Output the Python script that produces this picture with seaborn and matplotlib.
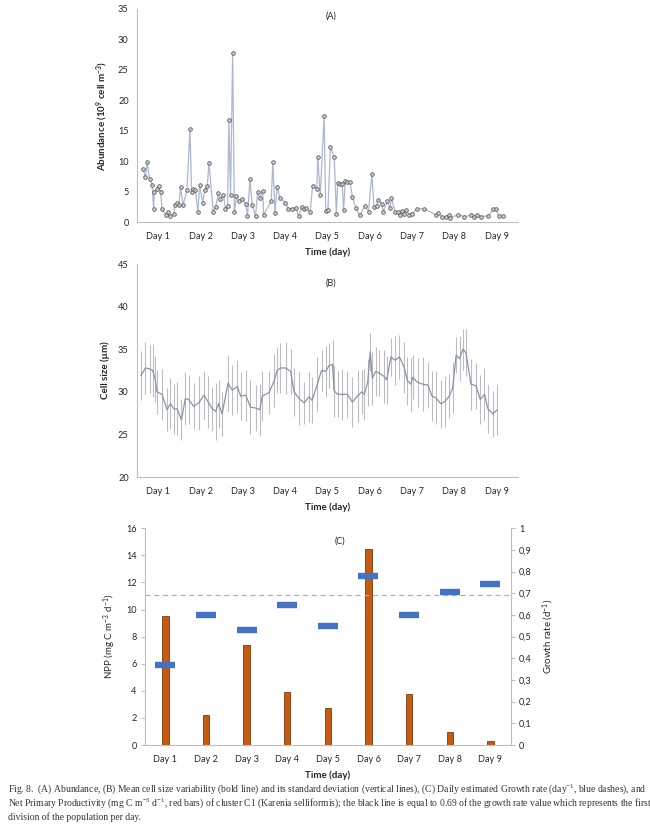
import numpy as np
import pandas as pd
import seaborn as sns
import matplotlib.pyplot as plt
from matplotlib.ticker import FixedLocator, MultipleLocator, FuncFormatter

# (A) abundance, x in days since start
abund_time = [0.14, 0.20, 0.24, 0.30, 0.36, 0.39, 0.41, 0.47, 0.51, 0.56,
              0.59, 0.69, 0.73, 0.78, 0.88, 0.89, 0.94, 0.99, 1.03, 1.09,
              1.18, 1.25, 1.29, 1.33, 1.38, 1.44, 1.48, 1.55, 1.60, 1.66,
              1.70, 1.80, 1.86, 1.92, 1.97, 2.04, 2.09, 2.14, 2.17, 2.21,
              2.26, 2.30, 2.35, 2.42, 2.49, 2.57, 2.61, 2.67, 2.72, 2.80,
              2.85, 2.90, 2.97, 2.99, 3.17, 3.21, 3.26, 3.31, 3.38, 3.50,
              3.57, 3.66, 3.75, 3.82, 3.89, 3.94, 4.00, 4.09, 4.15, 4.25,
              4.27, 4.33, 4.42, 4.46, 4.51, 4.57, 4.66, 4.71, 4.74, 4.79,
              4.85, 4.88, 4.92, 4.97, 5.03, 5.09, 5.17, 5.26, 5.39, 5.47,
              5.55, 5.60, 5.66, 5.69, 5.78, 5.82, 5.91, 5.98, 6.01, 6.10,
              6.16, 6.22, 6.25, 6.31, 6.36, 6.43, 6.50, 6.61, 6.78, 7.06,
              7.12, 7.21, 7.29, 7.36, 7.40, 7.59, 7.73, 7.90, 7.96, 8.03,
              8.12, 8.30, 8.42, 8.48, 8.55, 8.65]
abund_val = [8.7, 7.4, 9.8, 7.0, 6.1, 2.1, 4.9, 5.5, 6.0, 4.9,
             2.1, 1.1, 1.6, 1.0, 1.3, 2.8, 3.1, 2.8, 5.7, 2.8,
             5.2, 15.2, 4.9, 5.4, 5.2, 1.7, 6.1, 3.2, 5.2, 6.0,
             9.7, 1.7, 2.5, 4.7, 3.8, 4.5, 2.2, 2.7, 16.7, 4.5,
             27.8, 1.6, 4.2, 3.4, 3.8, 3.0, 1.0, 7.1, 2.8, 1.0,
             4.9, 3.9, 5.1, 1.2, 3.4, 9.8, 1.5, 5.8, 3.9, 3.2,
             2.2, 2.2, 2.3, 1.0, 2.5, 2.2, 2.3, 1.6, 6.0, 5.5,
             10.7, 4.4, 17.4, 1.8, 1.9, 12.3, 10.6, 1.4, 6.4, 6.3,
             6.2, 1.9, 6.8, 6.5, 6.6, 4.1, 2.3, 1.1, 2.7, 1.7,
             7.9, 2.4, 2.6, 3.7, 3.0, 1.7, 3.4, 2.3, 3.9, 1.7,
             1.7, 1.1, 1.8, 1.3, 1.9, 1.2, 1.4, 2.1, 2.2, 1.2,
             1.5, 0.9, 0.8, 1.2, 0.7, 1.2, 0.9, 1.1, 0.8, 1.1,
             0.9, 1.0, 2.1, 2.1, 1.0, 1.0]

# (B) mean cell size and standard deviation
size_time = [0.09, 0.20, 0.30, 0.37, 0.43, 0.47, 0.59, 0.71, 0.79, 0.87,
             0.95, 1.05, 1.14, 1.22, 1.34, 1.46, 1.58, 1.68, 1.78, 1.86,
             1.93, 2.01, 2.15, 2.25, 2.37, 2.45, 2.57, 2.68, 2.80, 2.90,
             2.96, 3.12, 3.24, 3.31, 3.39, 3.51, 3.63, 3.71, 3.83, 3.95,
             4.06, 4.14, 4.26, 4.36, 4.46, 4.54, 4.62, 4.66, 4.74, 4.85,
             4.97, 5.09, 5.21, 5.31, 5.37, 5.45, 5.51, 5.56, 5.64, 5.72,
             5.84, 5.90, 6.00, 6.10, 6.20, 6.31, 6.39, 6.47, 6.51, 6.63,
             6.75, 6.87, 6.97, 7.06, 7.18, 7.28, 7.38, 7.46, 7.54, 7.62,
             7.70, 7.77, 7.89, 8.01, 8.11, 8.21, 8.29, 8.41, 8.51]
size_mean = [31.9, 32.8, 32.7, 32.5, 31.5, 30.0, 29.7, 27.9, 28.6, 28.0,
             28.0, 26.7, 29.2, 29.1, 28.3, 28.7, 29.6, 28.8, 28.0, 27.7,
             28.6, 27.4, 31.0, 30.2, 30.6, 29.5, 29.6, 28.2, 28.1, 27.9,
             29.5, 29.9, 31.3, 32.5, 32.8, 32.8, 32.4, 30.0, 29.2, 28.7,
             29.4, 29.0, 30.9, 32.5, 32.4, 33.1, 33.2, 30.1, 29.7, 29.7,
             29.7, 28.8, 29.5, 30.0, 29.7, 31.1, 34.7, 31.6, 32.4, 32.2,
             31.8, 31.4, 34.1, 33.7, 34.1, 32.9, 31.3, 30.9, 31.7, 31.1,
             30.9, 30.8, 29.5, 29.3, 28.6, 28.9, 29.5, 30.5, 34.3, 33.9,
             35.0, 34.6, 30.9, 30.7, 29.1, 29.7, 28.0, 27.4, 27.9]
size_std = [2.9, 3.0, 2.8, 3.1, 2.7, 2.6, 3.0, 2.5, 3.0, 2.9,
            3.1, 2.4, 3.1, 2.9, 2.7, 3.2, 2.8, 3.0, 2.6, 3.3,
            2.8, 2.6, 3.2, 2.9, 3.1, 2.8, 3.0, 3.2, 2.7, 3.0,
            2.9, 2.5, 3.1, 2.6, 2.9, 3.0, 2.6, 2.8, 3.1, 2.5,
            2.9, 2.7, 3.2, 2.4, 3.0, 2.6, 2.9, 3.1, 2.7, 3.0,
            2.8, 2.9, 3.1, 2.6, 3.0, 2.8, 2.2, 3.1, 2.9, 2.7,
            3.1, 2.8, 2.2, 2.9, 2.6, 3.0, 2.8, 3.1, 2.6, 2.9,
            3.2, 2.7, 2.9, 3.1, 2.8, 3.0, 2.6, 3.0, 2.1, 2.6,
            2.4, 2.8, 3.0, 2.7, 2.9, 3.1, 2.8, 2.7, 3.0]

# (C) daily NPP and growth rate
days = ['Day 1', 'Day 2', 'Day 3', 'Day 4', 'Day 5', 'Day 6', 'Day 7', 'Day 8', 'Day 9']
npp = [9.55, 2.25, 7.35, 3.9, 2.75, 14.5, 3.75, 0.95, 0.3]
growth = [0.37, 0.60, 0.53, 0.645, 0.55, 0.78, 0.60, 0.705, 0.745]
division_rate = 0.69

sns.set_style('white')
plt.rcParams['font.family'] = ['Lato', 'DejaVu Sans']
plt.rcParams['text.color'] = '#262626'
plt.rcParams['axes.labelcolor'] = '#262626'
plt.rcParams['xtick.color'] = '#262626'
plt.rcParams['ytick.color'] = '#262626'
plt.rcParams['mathtext.default'] = 'regular'

spine_col = '#bfbfbf'
tick_fs = 6.6
lab_fs = 7


def style_axis(ax):
    sns.despine(ax=ax, top=True, right=True)
    for s in ['left', 'bottom']:
        ax.spines[s].set_color(spine_col)
        ax.spines[s].set_linewidth(0.8)
    ax.tick_params(axis='y', length=3, width=0.8, color=spine_col, labelsize=tick_fs, pad=3)


def day_axis(ax):
    ax.set_xlim(0, 9)
    ax.xaxis.set_major_locator(FixedLocator(np.arange(9) + 0.5))
    ax.set_xticklabels(days)
    ax.xaxis.set_minor_locator(FixedLocator(np.arange(10)))
    ax.tick_params(axis='x', which='major', length=0, labelsize=tick_fs, pad=7)
    ax.tick_params(axis='x', which='minor', length=3, width=0.8, color=spine_col)
    ax.set_xlabel('Time (day)', fontsize=lab_fs, fontweight='bold', labelpad=5)


fig = plt.figure(figsize=(6.5, 8.3), dpi=100)

# (A)
axA = fig.add_axes([0.2108, 0.7325, 0.586, 0.2567])
dfA = pd.DataFrame({'time': abund_time, 'abundance': abund_val})
sns.lineplot(data=dfA, x='time', y='abundance', ax=axA, color='#aab8d2', lw=0.9,
             marker='o', markersize=2.6, markerfacecolor='#d0d0d0',
             markeredgecolor='#5a5a5a', markeredgewidth=0.6)
axA.set_ylim(0, 35)
axA.yaxis.set_major_locator(MultipleLocator(5))
style_axis(axA)
day_axis(axA)
axA.set_ylabel('Abundance (10$^9$ cell m$^{-3}$)', fontsize=lab_fs, fontweight='bold', labelpad=6)
axA.text(0.51, 0.965, '(A)', transform=axA.transAxes, ha='center', va='center', fontsize=6.5)

# (B)
axB = fig.add_axes([0.2108, 0.4253, 0.586, 0.2566])
dfB = pd.DataFrame({'time': size_time, 'mean': size_mean, 'std': size_std})
axB.errorbar(dfB['time'], dfB['mean'], yerr=dfB['std'], fmt='none',
             ecolor='#bdbdbd', elinewidth=0.8, capsize=0)
sns.lineplot(data=dfB, x='time', y='mean', ax=axB, color='#8594ac', lw=0.9)
axB.set_ylim(20, 45)
axB.yaxis.set_major_locator(MultipleLocator(5))
style_axis(axB)
day_axis(axB)
axB.set_ylabel('Cell size (µm)', fontsize=lab_fs, fontweight='bold', labelpad=6)
axB.text(0.51, 0.91, '(B)', transform=axB.transAxes, ha='center', va='center', fontsize=6.5)

# (C)
axC = fig.add_axes([0.2231, 0.1024, 0.5626, 0.2611])
dfC = pd.DataFrame({'day': days, 'npp': npp, 'growth': growth})
sns.barplot(data=dfC, x='day', y='npp', ax=axC, color='#c55a11', width=0.16,
            edgecolor='#7a3a0c', linewidth=0.6, saturation=1)
axC.set_xlim(-0.5, 8.5)
axC.set_ylim(0, 16)
axC.yaxis.set_major_locator(MultipleLocator(2))
style_axis(axC)
axC.xaxis.set_minor_locator(FixedLocator(np.arange(10) - 0.5))
axC.tick_params(axis='x', which='major', length=0, labelsize=tick_fs, pad=7)
axC.tick_params(axis='x', which='minor', length=3, width=0.8, color=spine_col)
axC.set_xlabel('Time (day)', fontsize=lab_fs, fontweight='bold', labelpad=5)
axC.set_ylabel('NPP (mg C m$^{-3}$ d$^{-1}$)', fontsize=lab_fs, labelpad=6)

axG = axC.twinx()
axG.set_position([0.2231, 0.1024, 0.5626, 0.2611])
axG.plot(np.arange(len(days)), dfC['growth'], ls='none', marker='_',
         markersize=14, markeredgewidth=4.6, color='#4472c4')
axG.axhline(division_rate, color='#9db3d0', lw=0.9, ls=(0, (4, 3)), zorder=0)
axG.set_ylim(0, 1)
axG.yaxis.set_major_locator(MultipleLocator(0.1))
axG.yaxis.set_major_formatter(FuncFormatter(
    lambda v, p: '0' if abs(v) < 1e-9 else ('1' if abs(v - 1) < 1e-9 else f'{v:.1f}'.replace('.', ','))))
for s in ['top', 'left', 'bottom']:
    axG.spines[s].set_visible(False)
axG.spines['right'].set_color(spine_col)
axG.spines['right'].set_linewidth(0.8)
axG.tick_params(axis='y', length=3, width=0.8, color=spine_col, labelsize=tick_fs, pad=3)
axG.set_ylabel('Growth rate (d$^{-1}$)', fontsize=lab_fs, labelpad=6)
axC.text(0.533, 0.94, '(C)', transform=axC.transAxes, ha='center', va='center', fontsize=6.5)

# caption
cap = [
    r'Fig. 8.  (A) Abundance, (B) Mean cell size variability (bold line) and its standard deviation (vertical lines), (C) Daily estimated Growth rate (day$^{-1}$, blue dashes), and',
    r'Net Primary Productivity (mg C $m^{-3}$ $d^{-1}$, red bars) of cluster C1 (Karenia selliformis); the black line is equal to 0.69 of the growth rate value which represents the first',
    'division of the population per day.',
]
for i, line in enumerate(cap):
    fig.text(0.012, 1 - (789 + 14 * i) / 830, line, fontsize=6.9, ha='left', va='center',
             family=['Liberation Serif', 'DejaVu Serif'], color='#333333')

fig.savefig('out.png', dpi=100)
